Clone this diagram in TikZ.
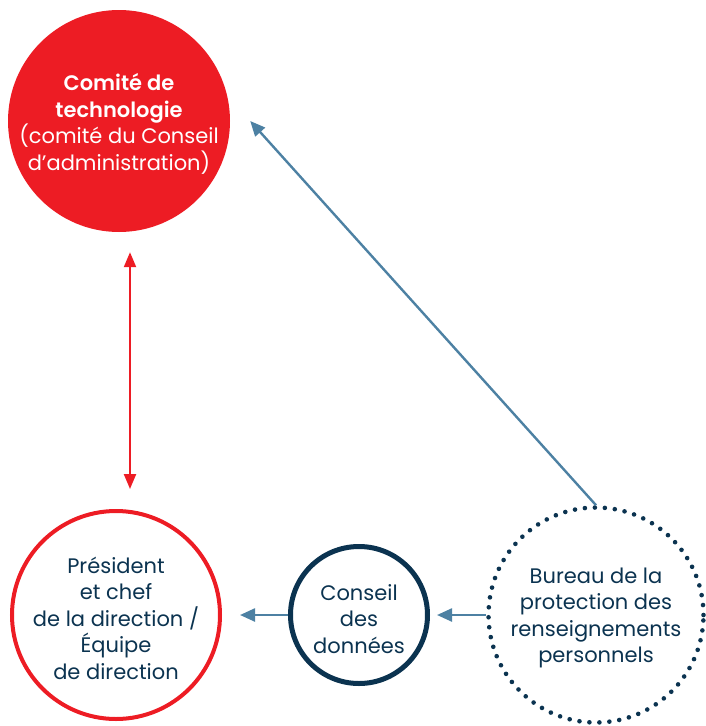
\documentclass[tikz,border=0pt]{standalone}
\usepackage{fontspec}
\setmainfont{Poppins}[BoldFont={Poppins SemiBold}]
\usepackage{xcolor}
\usetikzlibrary{arrows.meta, positioning}
\definecolor{cpred}{HTML}{ED1C24}
\definecolor{cpnavy}{HTML}{0B3350}
\definecolor{cpsteel}{HTML}{4D81A3}

\begin{document}
\begin{tikzpicture}[x=1pt, y=-1pt,
    bubble/.style={circle, inner sep=0pt},
    label text/.style={align=center, font=\fontsize{21}{26.5}\selectfont},
    flow/.style={line width=2.4pt, -{Triangle[length=15pt, width=13pt]}}]
  \useasboundingbox (0,0) rectangle (706,726);
  % Circles
  \node[bubble, fill=cpred, minimum size=222pt] (comite) at (119,121) {};
  \node[bubble, draw=cpred, line width=4pt, minimum size=208pt] (president) at (116,615) {};
  \node[bubble, draw=cpnavy, line width=5pt, minimum size=137pt] (conseil) at (359,615) {};
  \node[bubble, draw=cpnavy, line width=4.6pt, line cap=round, dash pattern=on 0pt off 10pt, minimum size=215pt] (bureau) at (596,615) {};

  % Texts
  \node[label text, text=white] (comitetxt) at (119,124) {{\bfseries Comité de}\\{\bfseries technologie}\\(comité du Conseil\\d’administration)};
  \node[label text, text=cpnavy] (presidenttxt) at (116,618) {Président\\et chef\\de la direction /\\Équipe\\de direction};
  \node[label text, text=cpnavy] (conseiltxt) at (359,619) {Conseil\\des\\données};
  \node[label text, text=cpnavy] (bureautxt) at (596,618) {Bureau de la\\protection des\\renseignements\\personnels};

  % Arrows
  \draw[line width=2.2pt, cpred, {Triangle[length=15pt, width=12pt]}-{Triangle[length=15pt, width=12pt]}, shorten <=20pt, shorten >=20pt]
    ([xshift=11pt]comite.south) -- ([xshift=14pt]president.north);
  \draw[flow, cpsteel] (bureau.north) -- ([xshift=20pt]comite.east);
  \draw[flow, cpsteel, shorten >=18pt] (conseil.west) -- (president.east);
  \draw[flow, cpsteel, shorten >=7pt] (bureau.west) -- (conseil.east);
\end{tikzpicture}
\end{document}
